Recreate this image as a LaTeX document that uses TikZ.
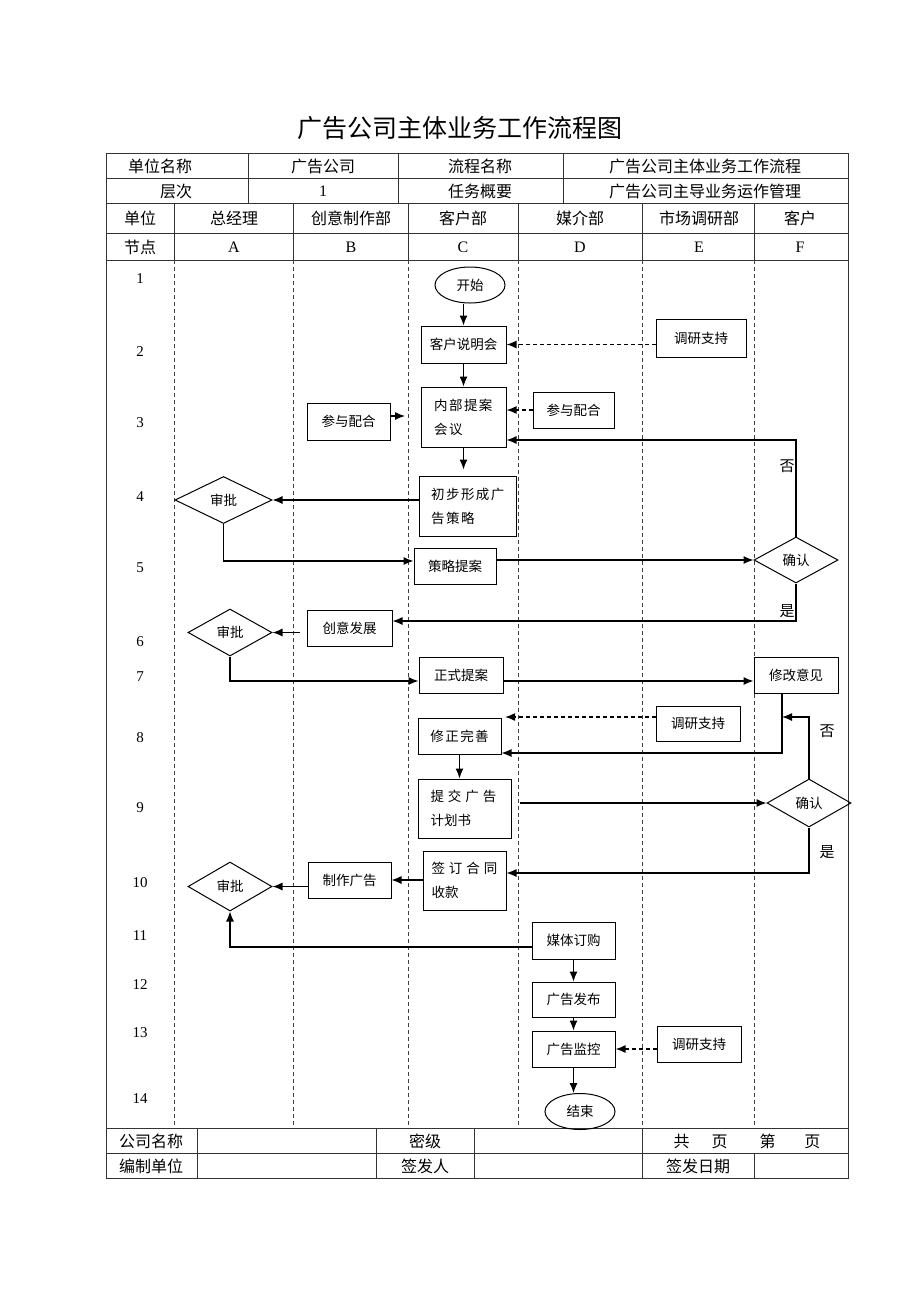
\documentclass[tikz,border=0pt]{standalone}
\usepackage{fontspec}
\setmainfont{Noto Sans CJK SC}
\newfontfamily\latin{Liberation Serif}
\usetikzlibrary{shapes.geometric,arrows.meta}
\tikzstyle{cell}=[font=\fontsize{16}{16}\selectfont]
\tikzstyle{rowno}=[font=\latin\fontsize{15}{15}\selectfont]

\begin{document}
\begin{tikzpicture}[x=1pt,y=-1pt,>={Latex[length=10pt,width=8pt]}]

\tikzstyle{box}=[rectangle, draw, line width=1pt, inner sep=0pt, minimum width=84pt, minimum height=36pt, font=\fontsize{13.5}{24}\selectfont]
\tikzstyle{decide}=[diamond, draw, line width=1pt, inner sep=0pt, aspect=1.8, minimum width=84pt, minimum height=47pt, font=\fontsize{13.5}{13.5}\selectfont]
\tikzstyle{term}=[ellipse, draw, line width=1pt, inner sep=0pt, minimum width=70pt, minimum height=36pt, font=\fontsize{13.5}{13.5}\selectfont]
\tikzstyle{flag}=[font=\fontsize{15}{15}\selectfont]
\tikzstyle{arrow}=[->, line width=1.2pt]
\tikzstyle{dasharrow}=[->, line width=1.5pt, dash pattern=on 4pt off 3pt]
\tikzstyle{lane}=[line width=0.6pt, black!75, dash pattern=on 4pt off 3pt]
\tikzstyle{tabline}=[line width=0.9pt, black!80]

\useasboundingbox (0,0) rectangle (920,1302);

\node (title) at (460,128) {\fontsize{25}{25}\selectfont 广告公司主体业务工作流程图};

% table
\draw[tabline] (106,153) rectangle (848,1178);
\foreach \y in {178,203,233,260,1128,1153} \draw[tabline] (106,\y) -- (848,\y);
\foreach \x in {248,398,563} \draw[tabline] (\x,153) -- (\x,203);
\foreach \x in {174,293,408,518,642,754} {
  \draw[tabline] (\x,203) -- (\x,260);
  \draw[lane] (\x,260) -- (\x,1128);
}
\foreach \x in {197,376,474,642} \draw[tabline] (\x,1128) -- (\x,1178);
\draw[tabline] (754,1153) -- (754,1178);

\node (unitname) [cell] at (160,166) {单位名称};
\node (company)  [cell] at (323,166) {广告公司};
\node (procname) [cell] at (480,166) {流程名称};
\node (proc)     [cell] at (705,166) {广告公司主体业务工作流程};
\node (level)    [cell] at (176,191) {层次};
\node (levelno)  [cell] at (323,191) {\latin 1};
\node (task)     [cell] at (480,191) {任务概要};
\node (taskdesc) [cell] at (705,191) {广告公司主导业务运作管理};

\node (unit)  [cell] at (140,218) {单位};
\node (point) [cell] at (140,247) {节点};
\foreach \x/\dept/\code [count=\i] in {234/总经理/A, 351/创意制作部/B, 463/客户部/C, 580/媒介部/D, 699/市场调研部/E, 800/客户/F} {
  \node (dept\i) [cell] at (\x,218) {\dept};
  \node (code\i) [cell] at (\x,247) {\latin\code};
}

\foreach \n/\y in {1/279, 2/352, 3/423, 4/497, 5/568, 6/642, 7/677, 8/738, 9/808, 10/883, 11/936, 12/985, 13/1033, 14/1099}
  \node (row\n) [rowno] at (140,\y) {\n};

\node (coname)    [cell] at (151,1141) {公司名称};
\node (secret)    [cell] at (425,1141) {密级};
\node (pages)     [cell] at (747,1141) {共\hspace{22pt}页\hspace{32pt}第\hspace{29pt}页};
\node (editor)    [cell] at (151,1166) {编制单位};
\node (issuer)    [cell] at (425,1166) {签发人};
\node (issuedate) [cell] at (698,1166) {签发日期};

% flow
\node (start)    [term] at (470,285) {开始};
\node (brief)    [box, minimum width=85pt, minimum height=37pt] at (463.5,344.5) {客户说明会};
\node (survA)    [box, minimum width=90pt, minimum height=38pt] at (701,338) {调研支持};
\node (meet)     [box, minimum width=85pt, minimum height=60pt, align=left, text width=59pt] at (463.5,417) {内\kern1.5pt 部\kern1.5pt 提\kern1.5pt 案\\会\kern1.5pt 议};
\node (coopB)    [box, minimum width=83pt, minimum height=37pt] at (348.5,421.5) {参与配合};
\node (coopD)    [box, minimum width=81pt] at (573.5,410) {参与配合};
\node (draft)    [box, minimum width=97pt, minimum height=60pt, align=left, text width=74pt] at (468,506) {初\kern1.5pt 步\kern1.5pt 形\kern1.5pt 成\kern1.5pt 广\\告\kern1.5pt 策\kern1.5pt 略};
\node (approveA) [decide, minimum width=97pt] at (223.5,500) {审批};
\node (strat)    [box, minimum width=82pt] at (455,566) {策略提案};
\node (confirmA) [decide, minimum height=46pt] at (796,560) {确认};
\node (idea)     [box, minimum width=85pt] at (349.5,628) {创意发展};
\node (approveB) [decide] at (230,632.5) {审批};
\node (formal)   [box] at (461,675) {正式提案};
\node (revise)   [box] at (796,675) {修改意见};
\node (fix)      [box, minimum width=83pt] at (459.5,736) {修\kern1.5pt 正\kern1.5pt 完\kern1.5pt 善};
\node (survB)    [box, minimum height=35pt] at (698,723.5) {调研支持};
\node (plan)     [box, minimum width=93pt, minimum height=59pt, align=left, text width=68pt] at (464.5,808.5) {提\kern4pt 交\kern4pt 广\kern4pt 告\\计划书};
\node (confirmB) [decide, minimum height=48pt] at (809,803) {确认};
\node (sign)     [box, minimum width=83pt, minimum height=59pt, align=left, text width=66pt] at (464.5,880.5) {签\kern4pt 订\kern4pt 合\kern4pt 同\\收款};
\node (make)     [box, minimum width=83pt] at (349.5,880) {制作广告};
\node (approveC) [decide, minimum height=49pt] at (230,886.5) {审批};
\node (buy)      [box, minimum width=83pt, minimum height=37pt] at (573.5,940.5) {媒体订购};
\node (publish)  [box, minimum width=83pt, minimum height=35pt] at (573.5,999.5) {广告发布};
\node (monitor)  [box, minimum width=83pt] at (573.5,1049) {广告监控};
\node (survC)    [box] at (699,1044) {调研支持};
\node (finish)   [term] at (580,1111.5) {结束};

\node (noA)  [flag] at (787,466) {否};
\node (yesA) [flag] at (787,611) {是};
\node (noB)  [flag] at (827,731) {否};
\node (yesB) [flag] at (827,852) {是};

\coordinate (coopBin)  at (405,416);
\coordinate (fixIn)    at (505,717);
\coordinate (reviseIn) at (782,717);
\coordinate (backY)    at (0,440);
\coordinate (stratY)   at (0,561);
\coordinate (ideaY)    at (0,621);
\coordinate (formalY)  at (0,681);
\coordinate (fixY)     at (0,753);
\coordinate (signY)    at (0,873);
\coordinate (buyY)     at (0,947);

\draw[arrow] (start.south -| brief.north) -- (brief.north);
\draw[dasharrow] (survA.west |- brief.east) -- (brief.east);
\draw[arrow] (brief.south) -- (meet.north);
\draw[arrow] (coopB.east |- coopBin) -- (coopBin);
\draw[dasharrow] (coopD.west) -- (meet.east |- coopD.west);
\draw[arrow] (confirmA.north) |- (meet.east |- backY);
\draw[arrow, shorten >=6pt] (meet.south) -- (meet.south |- draft.north);
\draw[arrow] (draft.west |- approveA.east) -- (approveA.east);
\draw[arrow] (approveA.south) |- (strat.west |- stratY);
\draw[arrow] (strat.east |- confirmA.west) -- (confirmA.west);
\draw[arrow] (confirmA.south) |- (idea.east |- ideaY);
\draw[arrow, shorten <=7pt] (idea.west |- approveB.east) -- (approveB.east);
\draw[arrow] (approveB.south) |- (formal.west |- formalY);
\draw[arrow] (formal.east |- formalY) -- (revise.west |- formalY);
\draw[arrow] (revise.south -| reviseIn) |- (fix.east |- fixY);
\draw[dasharrow] (survB.west |- fixIn) -- (fixIn);
\draw[arrow] (confirmB.north) |- (reviseIn);
\draw[arrow] (fix.south) -- (fix.south |- plan.north);
\draw[arrow, shorten <=8pt] (plan.east |- confirmB.west) -- (confirmB.west);
\draw[arrow] (confirmB.south) |- (sign.east |- signY);
\draw[arrow] (sign.west |- make.east) -- (make.east);
\draw[arrow] (make.west |- approveC.east) -- (approveC.east);
\draw[arrow] (buy.west |- buyY) -| (approveC.south);
\draw[arrow] (buy.south) -- (publish.north);
\draw[arrow] (publish.south) -- (monitor.north);
\draw[dasharrow] (survC.west |- monitor.east) -- (monitor.east);
\draw[arrow] (monitor.south) -- (monitor.south |- finish.north);
\end{tikzpicture}
\end{document}
